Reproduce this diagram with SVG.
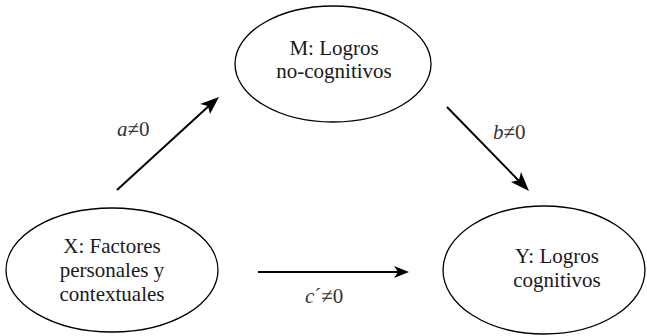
<svg xmlns="http://www.w3.org/2000/svg" width="647" height="336" viewBox="0 0 647 336">
<style>
.node{fill:#fff;stroke:#000;stroke-width:1.3}
.conn{stroke:#000;stroke-width:2;fill:none}
.head{fill:#000;stroke:none}
.t{font-family:'Liberation Serif',serif;font-size:21px;fill:#1a1a1a;text-anchor:middle}
.lbl{font-family:'Liberation Serif',serif;font-size:21px;fill:#333}
</style>
<rect width="647" height="336" fill="#fff"/>
<g id="connectors">
<line class="conn" x1="117" y1="190" x2="211" y2="104"/>
<path class="head" d="M219,97 L200,104 L208,106 L210,114 Z"/>
<line class="conn" x1="447" y1="107" x2="522" y2="184"/>
<path class="head" d="M529,191 L521,172 L519,180 L511,182 Z"/>
<line class="conn" x1="258" y1="272" x2="398" y2="272"/>
<path class="head" d="M409,272 L394,266 L398,272 L394,278 Z"/>
<text class="lbl" x="117" y="136"><tspan font-style="italic">a</tspan>&#8800;0</text>
<text class="lbl" x="493" y="139"><tspan font-style="italic">b</tspan>&#8800;0</text>
<text class="lbl" x="305" y="303"><tspan font-style="italic">c</tspan>&#180;&#8800;0</text>
</g>
<g id="node-M">
<ellipse class="node" cx="333" cy="64" rx="98" ry="58"/>
<text class="t" x="334" y="55">M: Logros</text>
<text class="t" x="334" y="78">no-cognitivos</text>
</g>
<g id="node-X">
<ellipse class="node" cx="112" cy="270" rx="106" ry="62"/>
<text class="t" x="112" y="253">X: Factores</text>
<text class="t" x="112" y="277">personales y</text>
<text class="t" x="112" y="301">contextuales</text>
</g>
<g id="node-Y">
<ellipse class="node" cx="544" cy="270" rx="101" ry="64"/>
<text class="t" x="557" y="263">Y: Logros</text>
<text class="t" x="557" y="287">cognitivos</text>
</g>
</svg>
